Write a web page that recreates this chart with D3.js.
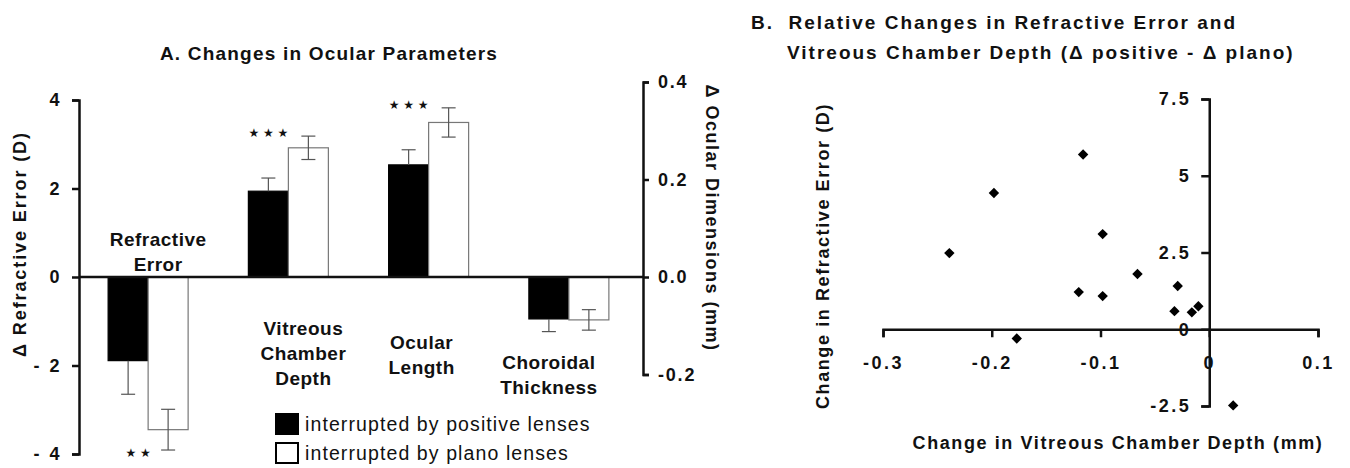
<!DOCTYPE html>
<html>
<head>
<meta charset="utf-8">
<script src="https://cdnjs.cloudflare.com/ajax/libs/d3/7.8.5/d3.min.js"></script>
<style>
  body { margin: 0; background: #fff; }
  svg text { font-family: "Liberation Sans", Arial, sans-serif; fill: #111; }
</style>
</head>
<body>
<script>
'use strict';

// ---- panel A: changes in ocular parameters ----
const categories = ["Refractive Error", "Vitreous Chamber Depth", "Ocular Length", "Choroidal Thickness"];
const categoryLines = [["Refractive", "Error"], ["Vitreous", "Chamber", "Depth"], ["Ocular", "Length"], ["Choroidal", "Thickness"]];
const units = ["D", "mm", "mm", "mm"];           // refractive error on left axis, the rest on right axis
const positiveMean = [-1.89, 0.176, 0.230, -0.086];
const positiveSE = [0.76, 0.027, 0.031, 0.026];
const planoMean = [-3.45, 0.265, 0.317, -0.088];
const planoSE = [0.46, 0.024, 0.030, 0.021];
const significance = ["★ ★", "★ ★ ★", "★ ★ ★", ""];
const leftTicks = [-4, -2, 0, 2, 4];
const rightTicks = [-0.2, 0, 0.2, 0.4];
const legendLabels = ["interrupted by positive lenses", "interrupted by plano lenses"];

// ---- panel B: relative changes (positive - plano) ----
const vcdChange = [-0.239, -0.198, -0.177, -0.116, -0.120, -0.098, -0.098, -0.066, -0.029, -0.032, -0.016, -0.010, 0.022];
const reChange = [2.48, 4.44, -0.30, 5.69, 1.21, 3.10, 1.08, 1.80, 1.41, 0.59, 0.55, 0.75, -2.48];
const xTicksB = [-0.3, -0.2, -0.1, 0, 0.1];
const yTicksB = [-2.5, 0, 2.5, 5, 7.5];

const svg = d3.select('body').append('svg')
  .attr('width', 1350)
  .attr('height', 468);

// layout tweaks for the category captions and stars (offsets from group centre)
const labelDx = [10, 15, -7, -20];
const labelY = [239, 328, 342, 362];
const starDx = [-10, -20, -20, 0];

drawPanelA();
drawPanelB();

function styleAxis(g, width) {
  g.select('.domain').attr('stroke', '#111').attr('stroke-width', width);
  g.selectAll('.tick line').attr('stroke', '#111').attr('stroke-width', width);
  g.selectAll('.tick text')
    .style('font-size', '18px')
    .style('font-weight', 'bold')
    .style('letter-spacing', '2.5px')
    .attr('fill', '#111');
}

function drawPanelA() {
  const x0 = 79, x1 = 643;
  const yLeft = d3.scaleLinear().domain([-4, 4]).range([454, 100]);
  const yRight = d3.scaleLinear().domain([-0.2, 0.4]).range([374.5, 82]);
  const yFor = (i) => units[i] === "D" ? yLeft : yRight;

  const xBand = d3.scaleBand().domain(categories).range([78, 639]);
  const xInner = d3.scaleBand().domain(["positive", "plano"]).range([-40, 40]);
  const centre = (c) => xBand(c) + xBand.bandwidth() / 2;

  // title
  svg.append('text')
    .attr('x', 329).attr('y', 60)
    .attr('text-anchor', 'middle')
    .style('font-size', '19px').style('font-weight', 'bold').style('letter-spacing', '1.2px')
    .text('A. Changes in Ocular Parameters');

  // bars
  const series = [
    { key: "positive", mean: positiveMean, se: positiveSE, fill: "#000", stroke: "#000" },
    { key: "plano", mean: planoMean, se: planoSE, fill: "#fff", stroke: "#777" }
  ];

  series.forEach((s) => {
    svg.append('g').selectAll('rect')
      .data(categories)
      .enter()
      .append('rect')
      .attr('x', (c) => centre(c) + xInner(s.key))
      .attr('width', xInner.bandwidth())
      .attr('y', (c, i) => Math.min(yFor(i)(0), yFor(i)(s.mean[i])))
      .attr('height', (c, i) => Math.abs(yFor(i)(0) - yFor(i)(s.mean[i])))
      .attr('fill', s.fill)
      .attr('stroke', s.stroke)
      .attr('stroke-width', 1.2);
  });

  // error bars: black bars show only the outer half, white bars the whole bar
  series.forEach((s) => {
    const g = svg.append('g').attr('stroke', '#555').attr('stroke-width', 1.2);
    categories.forEach((c, i) => {
      const y = yFor(i);
      const cx = centre(c) + xInner(s.key) + xInner.bandwidth() / 2;
      const m = s.mean[i], e = s.se[i], sign = m < 0 ? -1 : 1;
      const lo = s.key === "positive" ? m : m - sign * e;
      const hi = m + sign * e;
      g.append('line').attr('x1', cx).attr('x2', cx).attr('y1', y(lo)).attr('y2', y(hi));
      g.append('line').attr('x1', cx - 7).attr('x2', cx + 7).attr('y1', y(hi)).attr('y2', y(hi));
      if (s.key === "plano") {
        g.append('line').attr('x1', cx - 7).attr('x2', cx + 7).attr('y1', y(lo)).attr('y2', y(lo));
      }
    });
  });

  // zero line
  svg.append('line')
    .attr('x1', x0).attr('x2', x1)
    .attr('y1', yLeft(0)).attr('y2', yLeft(0))
    .attr('stroke', '#111').attr('stroke-width', 2.5);

  // left axis
  const gl = svg.append('g')
    .attr('transform', 'translate(' + x0 + ',0)')
    .call(d3.axisLeft(yLeft).tickValues(leftTicks).tickSize(7).tickSizeOuter(7).tickPadding(10)
      .tickFormat((d) => d < 0 ? '- ' + Math.abs(d) : String(d)));
  styleAxis(gl, 2.5);

  // right axis
  const gr = svg.append('g')
    .attr('transform', 'translate(' + x1 + ',0)')
    .call(d3.axisRight(yRight).tickValues(rightTicks).tickSize(6).tickSizeOuter(6).tickPadding(9)
      .tickFormat((d) => d.toFixed(1)));
  styleAxis(gr, 2.5);
  gr.selectAll('.tick text').style('letter-spacing', '1.8px');

  // axis titles
  svg.append('text')
    .attr('transform', 'translate(26,244)rotate(-90)')
    .attr('text-anchor', 'middle')
    .style('font-size', '18px').style('font-weight', 'bold').style('letter-spacing', '1.9px')
    .text('Δ Refractive Error (D)');

  svg.append('text')
    .attr('transform', 'translate(706,218)rotate(90)')
    .attr('text-anchor', 'middle')
    .style('font-size', '18px').style('font-weight', 'bold').style('letter-spacing', '1.5px')
    .text('Δ Ocular Dimensions (mm)');

  // category captions
  categories.forEach((c, i) => {
    const t = svg.append('text')
      .attr('text-anchor', 'middle')
      .style('font-size', '19px').style('font-weight', 'bold').style('letter-spacing', '0.5px');
    categoryLines[i].forEach((line, k) => {
      t.append('tspan')
        .attr('x', centre(c) + labelDx[i])
        .attr('y', labelY[i] + 7 + k * 25)
        .text(line);
    });
  });

  // significance stars next to the plano error bar end
  categories.forEach((c, i) => {
    if (!significance[i]) return;
    const y = yFor(i);
    const m = planoMean[i], e = planoSE[i], sign = m < 0 ? -1 : 1;
    const yc = y(m + sign * e) - sign * 3;
    svg.append('text')
      .attr('x', centre(c) + starDx[i])
      .attr('y', yc + 4)
      .attr('text-anchor', 'middle')
      .style('font-family', '"DejaVu Sans", sans-serif')
      .style('font-size', '12px')
      .text(significance[i]);
  });

  // legend
  const legend = svg.append('g').attr('transform', 'translate(275,413)');
  legendLabels.forEach((lab, i) => {
    legend.append('rect')
      .attr('x', 1).attr('y', i * 29 + 1)
      .attr('width', 22).attr('height', 20)
      .attr('fill', i === 0 ? '#000' : '#fff')
      .attr('stroke', '#000').attr('stroke-width', 2);
    legend.append('text')
      .attr('x', 30).attr('y', i * 29 + 18)
      .style('font-size', '19.5px').style('letter-spacing', '1.1px')
      .text(lab);
  });
}

function drawPanelB() {
  const xScale = d3.scaleLinear().domain([-0.3, 0.1]).range([883, 1318]);
  const yScale = d3.scaleLinear().domain([-2.5, 7.5]).range([406, 99]);

  // title (two lines)
  const title = svg.append('text')
    .style('font-size', '19px').style('font-weight', 'bold').style('letter-spacing', '2px')
    .style('white-space', 'pre');
  title.append('tspan').attr('x', 751).attr('y', 29).text('B.  Relative Changes in Refractive Error and');
  title.append('tspan').attr('x', 787).attr('y', 59).text('Vitreous Chamber Depth (Δ positive - Δ plano)');

  // x axis through y = 0
  const gx = svg.append('g')
    .attr('transform', 'translate(0,' + yScale(0) + ')')
    .call(d3.axisBottom(xScale).tickValues(xTicksB).tickSize(8).tickSizeOuter(8).tickPadding(19)
      .tickFormat((d) => d === 0 ? '0' : (d < 0 ? '-' : '') + Math.abs(d).toFixed(1)));
  styleAxis(gx, 2.5);

  // y axis through x = 0
  const gy = svg.append('g')
    .attr('transform', 'translate(' + xScale(0) + ',0)')
    .call(d3.axisLeft(yScale).tickValues(yTicksB).tickSize(8).tickSizeOuter(8).tickPadding(10)
      .tickFormat((d) => d === 0 ? '0' : (d < 0 ? '-' : '') + Math.abs(d)));
  styleAxis(gy, 2.5);

  // points
  const diamond = d3.symbol().type(d3.symbolSquare).size(54);
  svg.append('g').selectAll('path')
    .data(vcdChange)
    .enter()
    .append('path')
    .attr('d', diamond)
    .attr('transform', (d, i) => 'translate(' + xScale(d) + ',' + yScale(reChange[i]) + ')rotate(45)')
    .attr('fill', '#000');

  // axis titles
  svg.append('text')
    .attr('transform', 'translate(829,256)rotate(-90)')
    .attr('text-anchor', 'middle')
    .style('font-size', '18px').style('font-weight', 'bold').style('letter-spacing', '1.6px')
    .text('Change in Refractive Error (D)');

  svg.append('text')
    .attr('x', 1118).attr('y', 449)
    .attr('text-anchor', 'middle')
    .style('font-size', '18px').style('font-weight', 'bold').style('letter-spacing', '1.6px')
    .text('Change in Vitreous Chamber Depth (mm)');
}
</script>
</body>
</html>
